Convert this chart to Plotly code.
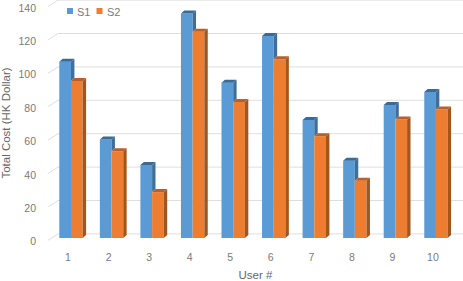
import plotly.graph_objects as go

users = [1, 2, 3, 4, 5, 6, 7, 8, 9, 10]
s1 = [105.6, 59, 43.7, 134.5, 93, 121, 70.7, 46.3, 79.6, 87.4]
s2 = [94, 52, 27.5, 123.5, 81.5, 107, 61, 34.3, 71, 77]
yticks = [0, 20, 40, 60, 80, 100, 120, 140]

BLUE, ORANGE = "#5B9BD5", "#ED7D31"
BLUE_SIDE, ORANGE_SIDE = "#3F6F99", "#A0561F"
BLUE_TOP, ORANGE_TOP = "#3A6A96", "#B9602A"
GRID = "#DEDEDE"
TXT = "#7A7A7A"
FONT = "Liberation Sans"

W, H = 463, 281
LEFT, BOTTOM = 48, 246
PX_X = 40.55      # pixels per category
PX_Y = 1.67       # pixels per value unit
ZERO_PX = 240.3   # pixel row of value 0 on the front plane
T1 = 68           # pixel column of category 1
LABEL_DROP = 1.5  # tick labels sit slightly below their gridline ends

ux = 1 / PX_X
uy = 1 / PX_Y
base = (ZERO_PX - 238) * uy
bw = 11.7 * ux
off1 = -8.7 * ux
off2 = 3.0 * ux
dx, dy = 3.4 * ux, 3.0 * uy        # bar depth
wx, wy = 10 * ux, 6.4 * uy         # wall depth


def faces(vals, lows, off):
    tx, ty, sx, sy = [], [], [], []
    for u, v, lo in zip(users, vals, lows):
        l, r, t = u + off, u + off + bw, v + base
        tx += [l, r, r + dx, l + dx, l, None]
        ty += [t, t, t + dy, t + dy, t, None]
        b = lo + base
        sx += [r, r + dx, r + dx, r, r, None]
        sy += [t, t + dy, b + dy, b, t, None]
    return tx, ty, sx, sy


def poly(x, y, color):
    return go.Scatter(x=x, y=y, mode="lines", fill="toself", fillcolor=color,
                      line=dict(width=0, color=color), showlegend=False,
                      hoverinfo="skip", cliponaxis=False)


xmin = 1 - (T1 - LEFT) * ux
xmax = 1 + (W - T1) * ux
fig = go.Figure()

fig.add_trace(go.Bar(x=users, y=s1, base=base, width=bw, offset=off1, name="S1",
                     marker=dict(color=BLUE, line=dict(width=0)), showlegend=False))
fig.add_trace(go.Bar(x=users, y=s2, base=base, width=bw, offset=off2, name="S2",
                     marker=dict(color=ORANGE, line=dict(width=0)), showlegend=False))

tx1, ty1, sx1, sy1 = faces(s1, s2, off1)
tx2, ty2, sx2, sy2 = faces(s2, [0] * len(s2), off2)
fig.add_trace(poly(sx1, sy1, BLUE_SIDE))
fig.add_trace(poly(tx1, ty1, BLUE_TOP))
fig.add_trace(poly(sx2, sy2, ORANGE_SIDE))
fig.add_trace(poly(tx2, ty2, ORANGE_TOP))

fw = W - LEFT
fh = BOTTOM
def px(p):
    return (p - LEFT) / fw
def py(p):
    return 1 - p / fh

shapes, notes = [], []
# back wall gridlines and diagonal floor ticks, beneath the bars
for t in yticks:
    for x0, y0, x1, y1 in [(xmin, t, xmin + wx, t + wy), (xmin + wx, t + wy, xmax, t + wy)]:
        shapes.append(dict(type="line", xref="x", yref="y", x0=x0, y0=y0, x1=x1, y1=y1,
                           layer="below", line=dict(color=GRID, width=1)))
for name, col, sx_, tx_ in [("S1", BLUE, 67, 74.5), ("S2", ORANGE, 96.5, 104.5)]:
    shapes.append(dict(type="rect", xref="paper", yref="paper", x0=px(sx_), x1=px(sx_ + 6),
                       y0=py(14), y1=py(8), fillcolor=col, line=dict(width=0)))
    notes.append(dict(text=name, xref="paper", yref="paper", x=px(tx_), y=py(12),
                      xanchor="left", yanchor="middle", showarrow=False,
                      font=dict(family=FONT, size=11, color=TXT)))

fig.update_layout(
    width=W, height=H, autosize=False,
    margin=dict(l=LEFT, r=0, t=0, b=H - BOTTOM, pad=0),
    paper_bgcolor="white", plot_bgcolor="white",
    barmode="overlay", showlegend=False,
    font=dict(family=FONT, size=10.5, color=TXT),
    shapes=shapes, annotations=notes,
    xaxis=dict(range=[xmin, xmax], tickmode="array", tickvals=users, ticktext=[str(u) for u in users],
               showgrid=False, zeroline=False, showline=False, ticks="", ticklabelstandoff=3,
               title=dict(text="User #", font=dict(size=11.5, color="#666666"), standoff=12),
               automargin=False),
    yaxis=dict(range=[-(BOTTOM - ZERO_PX) * uy, ZERO_PX * uy], tickmode="array",
               tickvals=[t - LABEL_DROP * uy for t in yticks], ticktext=[str(t) for t in yticks],
               showgrid=False, zeroline=False, showline=False, ticks="", ticklabelstandoff=11,
               title=dict(text="Total Cost (HK Dollar)", font=dict(size=11.5, color="#666666"), standoff=7),
               automargin=False),
)
fig.write_html("out.html", config=dict(displayModeBar=False),
               post_script="document.body.style.margin='0';document.body.style.overflow='hidden';")
